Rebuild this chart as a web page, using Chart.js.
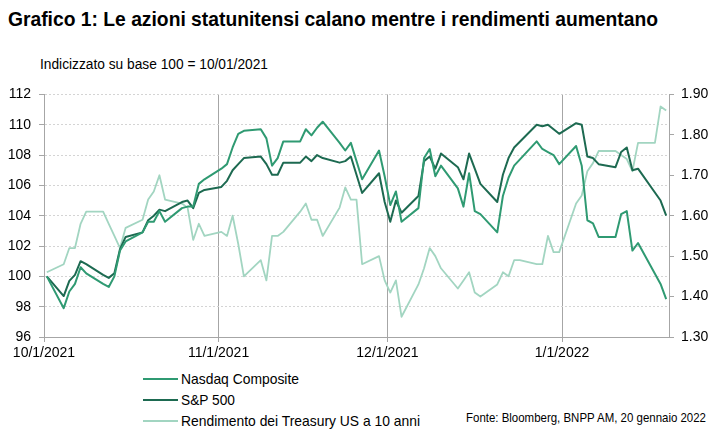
<!DOCTYPE html>
<html>
<head>
<meta charset="utf-8">
<script src="https://cdn.jsdelivr.net/npm/chart.js@4.4.1/dist/chart.umd.min.js"></script>
<style>
    body {
        margin: 0;
        width: 725px;
        height: 446px;
        background: #fff;
        position: relative;
        overflow: hidden;
        font-family: "Liberation Sans Narrow", "Arial Narrow", "Liberation Sans", Arial, sans-serif;
        color: #000;
    }
    .fit { display: inline-block; white-space: nowrap; transform-origin: left center; }
    #title { position: absolute; left: 8px; top: 7px; font-size: 21px; font-weight: bold; }
    #subtitle { position: absolute; left: 40px; top: 56px; font-size: 14px; }
    #wrap { position: absolute; left: 0; top: 78px; width: 725px; height: 289px; }
    #legend { position: absolute; left: 143px; top: 368px; font-size: 15px; }
    #legend .item { display: flex; align-items: center; height: 21px; white-space: nowrap; }
    #legend .swatch { width: 35px; height: 2px; margin-right: 3px; flex: none; }
    #source { position: absolute; left: 466px; top: 410px; font-size: 13px; }
</style>
</head>
<body>
<div id="title" class="fit">Grafico 1: Le azioni statunitensi calano mentre i rendimenti aumentano</div>
<div id="subtitle" class="fit">Indicizzato su base 100 = 10/01/2021</div>
<div id="wrap"><canvas id="chart"></canvas></div>
<div id="legend"></div>
<div id="source" class="fit">Fonte: Bloomberg, BNPP AM, 20 gennaio 2022</div>

<script>
// Trading days (bond-market holidays kept, stock holidays -> null)
const dates = [
    '2021-10-01',
    '2021-10-04', '2021-10-05', '2021-10-06', '2021-10-07', '2021-10-08',
    '2021-10-11', '2021-10-12', '2021-10-13', '2021-10-14', '2021-10-15',
    '2021-10-18', '2021-10-19', '2021-10-20', '2021-10-21', '2021-10-22',
    '2021-10-25', '2021-10-26', '2021-10-27', '2021-10-28', '2021-10-29',
    '2021-11-01', '2021-11-02', '2021-11-03', '2021-11-04', '2021-11-05',
    '2021-11-08', '2021-11-09', '2021-11-10', '2021-11-11', '2021-11-12',
    '2021-11-15', '2021-11-16', '2021-11-17', '2021-11-18', '2021-11-19',
    '2021-11-22', '2021-11-23', '2021-11-24', '2021-11-25', '2021-11-26',
    '2021-11-29', '2021-11-30',
    '2021-12-01', '2021-12-02', '2021-12-03',
    '2021-12-06', '2021-12-07', '2021-12-08', '2021-12-09', '2021-12-10',
    '2021-12-13', '2021-12-14', '2021-12-15', '2021-12-16', '2021-12-17',
    '2021-12-20', '2021-12-21', '2021-12-22', '2021-12-23', '2021-12-24',
    '2021-12-27', '2021-12-28', '2021-12-29', '2021-12-30', '2021-12-31',
    '2022-01-03', '2022-01-04', '2022-01-05', '2022-01-06', '2022-01-07',
    '2022-01-10', '2022-01-11', '2022-01-12', '2022-01-13', '2022-01-14',
    '2022-01-17', '2022-01-18', '2022-01-19'
];

const nasdaq = [
    100.0,
    97.9, 99.0, 99.5, 100.6, 100.2,
    99.5, 99.3, 100.0, 101.7, 102.3,
    102.9, 103.6, 103.6, 104.3, 103.6,
    104.5, 104.6, 104.6, 106.1, 106.4,
    107.1, 107.4, 108.5, 109.4, 109.6,
    109.7, 109.1, 107.3, 107.8, 108.9,
    108.9, 109.7, 109.3, 109.8, 110.2,
    108.8, 108.3, 108.8, null, 106.4,
    108.3, 106.6,
    104.7, 105.6, 103.6,
    104.5, 107.8, 108.4, 106.6, 107.3,
    105.8, 104.6, 106.8, 104.3, 104.1,
    102.9, 105.3, 106.5, 107.3, null,
    108.9, 108.4, 108.2, 108.0, 107.4,
    108.6, 107.3, 103.7, 103.5, 102.6,
    102.6, 104.1, 104.3, 101.7, 102.2,
    null, 99.5, 98.5
];

const sp500 = [
    100.0,
    98.7, 99.7, 100.1, 101.0, 100.8,
    100.1, 99.9, 100.2, 101.8, 102.6,
    102.9, 103.7, 104.0, 104.4, 104.3,
    104.9, 105.0, 104.5, 105.5, 105.7,
    105.9, 106.3, 107.0, 107.4, 107.8,
    107.9, 107.4, 106.7, 106.7, 107.5,
    107.5, 107.9, 107.6, 108.0, 107.8,
    107.5, 107.6, 107.9, null, 105.5,
    106.8, 104.9,
    103.6, 105.0, 104.2,
    105.3, 107.6, 107.9, 107.1, 108.1,
    107.2, 106.4, 108.1, 107.1, 106.1,
    104.9, 106.7, 107.8, 108.5, null,
    110.0, 109.9, 110.0, 109.7, 109.4,
    110.1, 110.0, 107.9, 107.8, 107.4,
    107.2, 108.2, 108.5, 107.0, 107.1,
    null, 105.0, 104.0
];

const treasury10y = [
    1.46,
    1.48, 1.52, 1.52, 1.58, 1.61,
    1.61, 1.58, 1.55, 1.52, 1.57,
    1.59, 1.64, 1.66, 1.70, 1.64,
    1.63, 1.62, 1.54, 1.58, 1.55,
    1.56, 1.55, 1.60, 1.53, 1.45,
    1.49, 1.44, 1.55, 1.55, 1.56,
    1.61, 1.63, 1.59, 1.59, 1.55,
    1.62, 1.67, 1.64, 1.64, 1.48,
    1.50, 1.44,
    1.41, 1.44, 1.35,
    1.43, 1.47, 1.52, 1.50, 1.47,
    1.42, 1.44, 1.46, 1.41, 1.40,
    1.43, 1.46, 1.45, 1.49, 1.49,
    1.48, 1.48, 1.55, 1.51, 1.51,
    1.63, 1.65, 1.71, 1.73, 1.76,
    1.76, 1.75, 1.74, 1.71, 1.78,
    1.78, 1.87, 1.86
];

const tickDates = ['2021-10-01', '2021-11-01', '2021-12-01', '2022-01-01'];
const tickLabels = ['10/1/2021', '11/1/2021', '12/1/2021', '1/1/2022'];
const axisEndDate = '2022-01-20';

const seriesNames = ['Nasdaq Composite', 'S&P 500', 'Rendimento dei Treasury US a 10 anni'];
const seriesColors = ['#2f9a72', '#1d6a51', '#a2d5c1'];

// days since the first date (date axis, points centred on their day)
const day0 = Date.parse(dates[0] + 'T00:00:00Z');
function dayOf(d) {
    return (Date.parse(d + 'T00:00:00Z') - day0) / 864e5;
}
const xs = dates.map(d => dayOf(d) + 0.5);
const tickDays = tickDates.map(dayOf);

function toPoints(values) {
    return values.map((v, i) => ({ x: xs[i], y: v }));
}

// squeeze a text box horizontally (no narrow font installed)
function fitWidth(el, target) {
    const w = el.getBoundingClientRect().width;
    if (w > 0) el.style.transform = 'scaleX(' + (target / w) + ')';
}

const axisGrey = '#a6a6a6';
const tickFont = { family: '"Liberation Sans", Arial, sans-serif', size: 14 };

document.addEventListener('DOMContentLoaded', function () {
    const ctx = document.getElementById('chart');

    new Chart(ctx, {
        type: 'line',
        data: {
            datasets: [
                {
                    label: seriesNames[0],
                    data: toPoints(nasdaq),
                    borderColor: seriesColors[0],
                    borderWidth: 2,
                    yAxisID: 'y'
                },
                {
                    label: seriesNames[1],
                    data: toPoints(sp500),
                    borderColor: seriesColors[1],
                    borderWidth: 2,
                    yAxisID: 'y'
                },
                {
                    label: seriesNames[2],
                    data: toPoints(treasury10y),
                    borderColor: seriesColors[2],
                    borderWidth: 1.8,
                    yAxisID: 'y2',
                    order: 1
                }
            ]
        },
        options: {
            responsive: true,
            maintainAspectRatio: false,
            animation: false,
            spanGaps: true,
            elements: {
                point: { radius: 0 },
                line: { tension: 0, borderJoinStyle: 'round' }
            },
            layout: { padding: { top: 4.7, left: 0, right: 0, bottom: 0 } },
            plugins: {
                legend: { display: false },
                tooltip: { enabled: false }
            },
            scales: {
                x: {
                    type: 'linear',
                    min: 0,
                    max: dayOf(axisEndDate),
                    afterBuildTicks: function (scale) {
                        scale.ticks = tickDays.map(v => ({ value: v }));
                    },
                    afterFit: function (scale) {
                        scale.height = 30;
                    },
                    ticks: {
                        color: '#000',
                        font: tickFont,
                        padding: 3,
                        maxRotation: 0,
                        autoSkip: false,
                        callback: function (value) {
                            const i = tickDays.indexOf(value);
                            return i >= 0 ? tickLabels[i] : '';
                        }
                    },
                    grid: {
                        color: axisGrey,
                        lineWidth: 1,
                        tickLength: 5,
                        tickColor: axisGrey
                    },
                    border: { color: axisGrey }
                },
                y: {
                    position: 'left',
                    min: 96,
                    max: 112,
                    afterFit: function (scale) {
                        scale.width = 44;
                    },
                    ticks: {
                        stepSize: 2,
                        color: '#000',
                        font: tickFont,
                        padding: 8
                    },
                    grid: {
                        color: '#d4d4d4',
                        lineWidth: 1,
                        tickLength: 5,
                        tickColor: axisGrey,
                        tickBorderDash: []
                    },
                    border: { color: axisGrey, dash: [2, 2] }
                },
                y2: {
                    position: 'right',
                    min: 1.3,
                    max: 1.9,
                    afterFit: function (scale) {
                        scale.width = 56;
                    },
                    ticks: {
                        stepSize: 0.1,
                        color: '#000',
                        font: tickFont,
                        padding: 7,
                        callback: function (value) {
                            return value.toFixed(2);
                        }
                    },
                    grid: {
                        drawOnChartArea: false,
                        tickLength: 5,
                        tickColor: axisGrey
                    },
                    border: { color: axisGrey }
                }
            }
        }
    });

    // Legend below the chart, one entry per line
    const legend = document.getElementById('legend');
    const legendWidths = [118, 54, 239];
    seriesNames.forEach((name, i) => {
        const row = document.createElement('div');
        row.className = 'item';
        const swatch = document.createElement('span');
        swatch.className = 'swatch';
        swatch.style.background = seriesColors[i];
        const text = document.createElement('span');
        text.className = 'fit';
        text.textContent = name;
        row.appendChild(swatch);
        row.appendChild(text);
        legend.appendChild(row);
        fitWidth(text, legendWidths[i]);
    });

    fitWidth(document.getElementById('title'), 650);
    fitWidth(document.getElementById('subtitle'), 228);
    fitWidth(document.getElementById('source'), 240);
});
</script>
</body>
</html>
